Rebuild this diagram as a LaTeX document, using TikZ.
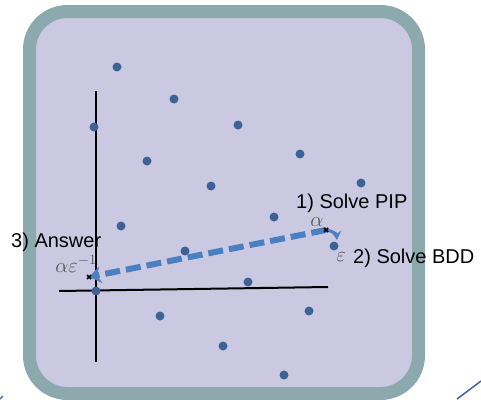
\documentclass[tikz,border=0pt]{standalone}
\usepackage{fontspec}
\setmainfont{Liberation Sans}
\usetikzlibrary{arrows.meta,calc}
\definecolor{framec}{HTML}{8CA9AD}
\definecolor{fillc}{HTML}{CBC9E2}
\definecolor{dotc}{HTML}{3D6396}
\definecolor{arrc}{HTML}{4A7FC1}
\definecolor{mathc}{HTML}{555555}
\definecolor{edgec}{HTML}{3D63A0}
\tikzset{
  dot/.style={circle,fill=dotc,inner sep=0pt,minimum size=9pt},
  axis/.style={line width=2pt,black},
  lbl/.style={font=\fontsize{20}{22}\selectfont,inner sep=0pt,anchor=base west},
  mlbl/.style={font=\fontsize{20}{22}\selectfont,text=mathc,inner sep=0pt},
  dasharr/.style={arrc,line width=6pt,dash pattern=on 15pt off 6pt,-{Stealth[length=12pt,width=17pt,inset=4pt]}},
  cross/.style={line width=1.5pt,black}
}
\begin{document}
\begin{tikzpicture}[x=1pt,y=-1pt]
\useasboundingbox (0,0) rectangle (481,399);
% frame
\draw[line width=13pt,draw=framec,fill=fillc,rounded corners=38pt] (29.5,11.5) rectangle (418.5,393.5);
% stray edges
\draw[edgec,line width=1.5pt] (457,399) -- (481,381);
\draw[edgec,line width=1.2pt] (0,399) -- (3,396);
% axes
\coordinate (vt) at (96,91);
\coordinate (vb) at (96,362);
\coordinate (hl) at (59,291);
\coordinate (hr) at (328,287);
\draw[axis] (vt) -- (vb);
\draw[axis] (hl) -- (hr);
% lattice points
\node[dot] (p1) at (117,67) {};
\node[dot] (p2) at (174,99) {};
\node[dot] (p3) at (94,127) {};
\node[dot] (p4) at (238,125) {};
\node[dot] (p5) at (147,161) {};
\node[dot] (p6) at (300,154) {};
\node[dot] (p7) at (211,186) {};
\node[dot] (p8) at (361,183) {};
\node[dot] (p9) at (274,217) {};
\node[dot] (p10) at (121,226) {};
\node[dot] (p11) at (185,251) {};
\node[dot] (p12) at (334,246) {};
\node[dot] (p13) at (248,282) {};
\node[dot] (p0) at (96,291) {};
\node[dot] (p14) at (160,316) {};
\node[dot] (p15) at (309,311) {};
\node[dot] (p16) at (223,346) {};
\node[dot] (p17) at (284,375) {};
% key points
\coordinate (alpha) at (326,230);
\coordinate (ans) at (89,277);
\coordinate (epsend) at (337,240);
\draw[dasharr] (alpha) -- (ans);
\draw[arrc,line width=3pt,-{Stealth[length=9pt,width=10pt,inset=3pt]}] (alpha) to[out=-5,in=95] (epsend);
% crosses
\draw[cross] ($(alpha)+(-2,-2)$) -- ($(alpha)+(2,2)$) ($(alpha)+(-2,2)$) -- ($(alpha)+(2,-2)$);
\draw[cross] ($(ans)+(-2,-2)$) -- ($(ans)+(2,2)$) ($(ans)+(-2,2)$) -- ($(ans)+(2,-2)$);
% labels
\node[lbl] (l1) at (296,208) {1) Solve PIP};
\node[lbl] (l2) at (353,263) {2) Solve BDD};
\node[lbl] (l3) at (11,247) {3) Answer};
\node[mlbl,anchor=base] (ma) at (317,226) {$\alpha$};
\node[mlbl] (me) at (341,257) {$\varepsilon$};
\node[mlbl] (mae) at (76,264) {$\alpha\varepsilon^{-1}$};
\end{tikzpicture}
\end{document}
